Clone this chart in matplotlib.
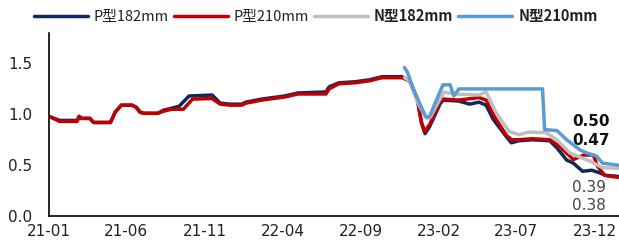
import matplotlib
matplotlib.use("Agg")
import matplotlib.pyplot as plt
import pandas as pd

plt.rcParams['font.family'] = ['Noto Sans CJK SC', 'DejaVu Sans']

series_names = ["P型182mm", "P型210mm", "N型182mm", "N型210mm"]
series_colors = ["#0E2A5A", "#C00000", "#BFBFBF", "#5B9BD5"]

p182_dates = ["2021-01-01", "2021-01-22", "2021-02-25", "2021-03-01", "2021-03-05", "2021-03-22",
              "2021-03-29", "2021-05-01", "2021-05-10", "2021-05-22", "2021-06-12", "2021-06-20",
              "2021-06-28", "2021-07-06", "2021-08-01", "2021-08-12", "2021-08-28", "2021-09-12",
              "2021-10-01", "2021-11-15", "2021-12-01", "2021-12-20", "2022-01-12", "2022-01-20",
              "2022-02-20", "2022-04-05", "2022-05-01", "2022-06-25", "2022-07-01", "2022-07-20",
              "2022-08-20", "2022-09-18", "2022-10-12", "2022-11-20", "2022-12-05", "2022-12-20",
              "2022-12-28", "2023-01-04", "2023-01-13", "2023-02-02", "2023-02-08", "2023-03-11",
              "2023-04-01", "2023-04-19", "2023-05-03", "2023-05-17", "2023-06-10", "2023-06-21",
              "2023-07-06", "2023-08-01", "2023-09-04", "2023-09-18", "2023-10-07", "2023-10-20",
              "2023-11-07", "2023-11-25", "2023-12-10", "2023-12-22", "2024-01-15"]
p182_values = [0.98, 0.94, 0.94, 0.98, 0.96, 0.96,
               0.92, 0.92, 1.02, 1.09, 1.09, 1.07,
               1.02, 1.01, 1.01, 1.04, 1.06, 1.08,
               1.18, 1.19, 1.11, 1.10, 1.10, 1.12,
               1.15, 1.18, 1.21, 1.22, 1.27, 1.31,
               1.32, 1.34, 1.37, 1.37, 1.33, 1.15,
               0.92, 0.81, 0.88, 1.10, 1.14, 1.13,
               1.10, 1.12, 1.09, 0.95, 0.79, 0.72,
               0.74, 0.75, 0.74, 0.67, 0.55, 0.52,
               0.44, 0.45, 0.425, 0.40, 0.39]

p210_dates = ["2021-01-01", "2021-01-22", "2021-02-25", "2021-03-01", "2021-03-05", "2021-03-22",
              "2021-03-29", "2021-05-01", "2021-05-10", "2021-05-22", "2021-06-12", "2021-06-20",
              "2021-06-28", "2021-07-06", "2021-08-01", "2021-08-12", "2021-08-28", "2021-09-20",
              "2021-10-08", "2021-11-15", "2021-12-01", "2021-12-20", "2022-01-12", "2022-01-20",
              "2022-02-20", "2022-04-05", "2022-05-01", "2022-06-25", "2022-07-01", "2022-07-20",
              "2022-08-20", "2022-09-18", "2022-10-12", "2022-11-20", "2022-12-05", "2022-12-20",
              "2022-12-28", "2023-01-03", "2023-01-13", "2023-02-02", "2023-02-08", "2023-03-11",
              "2023-04-19", "2023-05-03", "2023-05-20", "2023-06-12", "2023-06-22", "2023-07-06",
              "2023-08-01", "2023-09-04", "2023-09-22", "2023-10-20", "2023-11-10", "2023-11-28",
              "2023-12-06", "2023-12-20", "2024-01-15"]
p210_values = [0.98, 0.93, 0.93, 0.98, 0.96, 0.96,
               0.92, 0.92, 1.02, 1.09, 1.09, 1.07,
               1.02, 1.01, 1.01, 1.03, 1.05, 1.05,
               1.15, 1.155, 1.10, 1.09, 1.09, 1.11,
               1.14, 1.17, 1.20, 1.20, 1.25, 1.30,
               1.31, 1.33, 1.36, 1.36, 1.33, 1.15,
               0.92, 0.83, 0.90, 1.12, 1.15, 1.14,
               1.165, 1.14, 0.97, 0.79, 0.75, 0.75,
               0.76, 0.75, 0.69, 0.555, 0.60, 0.60,
               0.49, 0.40, 0.38]

n182_dates = ["2022-11-25", "2022-12-05", "2022-12-20", "2023-01-07", "2023-01-14", "2023-02-02",
              "2023-02-10", "2023-03-01", "2023-04-19", "2023-05-03", "2023-05-22", "2023-06-17",
              "2023-07-06", "2023-07-25", "2023-08-28", "2023-09-18", "2023-10-13", "2023-11-21",
              "2023-12-16", "2024-01-15"]
n182_values = [1.36, 1.33, 1.12, 0.96, 0.97, 1.15,
               1.22, 1.20, 1.19, 1.22, 1.02, 0.83,
               0.80, 0.825, 0.82, 0.75, 0.62, 0.54,
               0.475, 0.47]

n210_dates = ["2022-11-25", "2022-12-01", "2022-12-12", "2023-01-05", "2023-01-12", "2023-01-27",
              "2023-02-08", "2023-02-22", "2023-03-01", "2023-03-11", "2023-08-21", "2023-08-25",
              "2023-09-18", "2023-10-07", "2023-11-02", "2023-11-15", "2023-12-04", "2023-12-16",
              "2024-01-15"]
n210_values = [1.46, 1.41, 1.25, 0.98, 0.97, 1.15,
               1.29, 1.29, 1.18, 1.25, 1.25, 0.85,
               0.84, 0.75, 0.65, 0.62, 0.59, 0.52,
               0.50]

x_ticks = ["2021-01-01", "2021-06-01", "2021-11-01", "2022-04-01", "2022-09-01",
           "2023-02-01", "2023-07-01", "2023-12-01"]
x_tick_labels = ["21-01", "21-06", "21-11", "22-04", "22-09", "23-02", "23-07", "23-12"]
y_ticks = [0.0, 0.5, 1.0, 1.5]
y_tick_labels = ["0.0", "0.5", "1.0", "1.5"]

all_dates = [p182_dates, p210_dates, n182_dates, n210_dates]
all_values = [p182_values, p210_values, n182_values, n210_values]

fig = plt.figure(figsize=(6.19, 2.48), dpi=100)
ax = fig.add_axes([0.079, 0.129, 0.921, 0.738])

lines = []
for name, color, d, v in zip(series_names, series_colors, all_dates, all_values):
    ln, = ax.plot(pd.to_datetime(d), v, color=color, lw=2.5, label=name,
                  solid_joinstyle='round', solid_capstyle='round')
    lines.append(ln)

ax.set_ylim(0, 1.8)
ax.set_xlim(pd.Timestamp("2021-01-01"), pd.Timestamp("2024-01-17"))
ax.set_yticks(y_ticks)
ax.set_yticklabels(y_tick_labels, family='DejaVu Sans')
ax.set_xticks(pd.to_datetime(x_ticks))
ax.set_xticklabels(x_tick_labels, family='DejaVu Sans')
ax.tick_params(axis='both', length=0, labelsize=11, colors='#222222', pad=6)
ax.tick_params(axis='y', pad=12)
for s in ['top', 'right']:
    ax.spines[s].set_visible(False)
for s in ['left', 'bottom']:
    ax.spines[s].set_color('black')
    ax.spines[s].set_linewidth(1.2)

leg = fig.legend(handles=lines, loc='upper center', bbox_to_anchor=(0.51, 1.02), ncol=4,
                 frameon=False, fontsize=10.5, handlelength=3.7, handletextpad=0.4,
                 columnspacing=0.35)
for i, t in enumerate(leg.get_texts()):
    t.set_color('#222222')
    if i >= 2:
        t.set_fontweight('bold')

# end-value labels
end_labels = [
    (n210_values[-1], 0.516, 'bold', '#111111'),
    (n182_values[-1], 0.412, 'bold', '#111111'),
    (p182_values[-1], 0.154, 'normal', '#444444'),
    (p210_values[-1], 0.060, 'normal', '#444444'),
]
for val, yf, w, c in end_labels:
    ax.text(0.918, yf, f"{val:.2f}", transform=ax.transAxes, fontsize=11,
            fontweight=w, color=c, va='center', ha='left', family='DejaVu Sans')

fig.savefig("out.png", dpi=100)
